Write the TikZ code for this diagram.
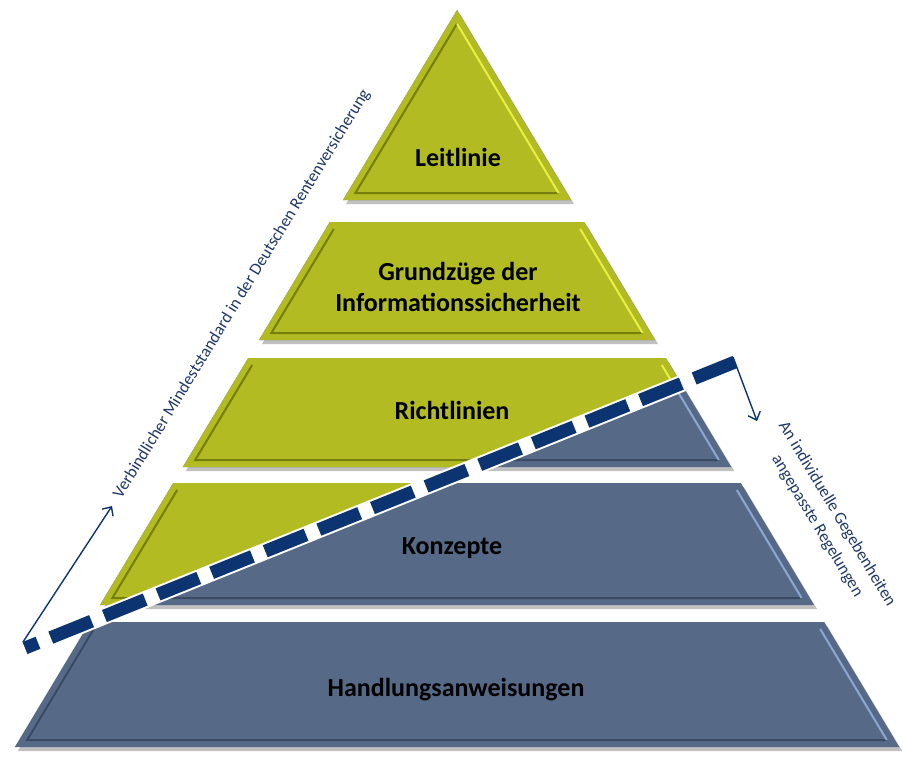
\documentclass[tikz,border=0pt]{standalone}
\usepackage{fontspec}
\setmainfont{Carlito}
\usetikzlibrary{shadows,arrows.meta}

\definecolor{layergreen}{RGB}{178,188,34}
\definecolor{greendark}{RGB}{118,126,12}
\definecolor{greenlight}{RGB}{232,240,70}
\definecolor{layerblue}{RGB}{86,106,136}
\definecolor{bluedark}{RGB}{58,74,100}
\definecolor{bluelight}{RGB}{140,168,210}
\definecolor{navy}{RGB}{12,52,112}
\definecolor{labelblue}{RGB}{30,56,104}

% one set of pyramid layers: fill, dark bevel, light bevel, extra fill options
\newcommand{\pyramidlayers}[4]{%
  \foreach \yt/\yb/\ti in {10/200/14,222/340/7,358/467/7,483/605/7,622/747/7}{
    \pgfmathsetmacro\xlt{457-0.6*(\yt-10)}
    \pgfmathsetmacro\xrt{457+0.6*(\yt-10)}
    \pgfmathsetmacro\xlb{457-0.6*(\yb-10)}
    \pgfmathsetmacro\xrb{457+0.6*(\yb-10)}
    \fill[fill=#1,#4] (\xlt,\yt) -- (\xrt,\yt) -- (\xrb,\yb) -- (\xlb,\yb) -- cycle;
    \pgfmathsetmacro\yti{\yt+\ti}
    \pgfmathsetmacro\ybi{\yb-7}
    \pgfmathsetmacro\xlti{457-0.6*(\yti-10)+8.2}
    \pgfmathsetmacro\xrti{457+0.6*(\yti-10)-8.2}
    \pgfmathsetmacro\xlbi{457-0.6*(\ybi-10)+8.2}
    \pgfmathsetmacro\xrbi{457+0.6*(\ybi-10)-8.2}
    \draw[#2,line width=2pt] (\xlti,\yti) -- (\xlbi,\ybi) -- (\xrbi,\ybi);
    \draw[#3,line width=2pt] (\xrti,\yti) -- (\xrbi,\ybi);
  }%
}

\begin{document}
\begin{tikzpicture}[x=1pt,y=-1pt,
	layerlabel/.style={font=\bfseries\fontsize{26}{31}\selectfont,text=black,align=center},
	sidelabel/.style={font=\fontsize{17}{23}\selectfont,text=labelblue,align=center},
	thinarrow/.style={draw=navy,line width=1.4pt,-{Straight Barb[length=7pt,width=13pt]}}]
	\useasboundingbox (0,0) rectangle (903,756);

	% blue pyramid
	\pyramidlayers{layerblue}{bluedark}{bluelight}{drop shadow={shadow xshift=3pt,shadow yshift=-4pt,opacity=.45,fill=black!55}}

	% green part above the dashed line
	\begin{scope}
		\clip (0,0) -- (903,0) -- (903,294) -- (0,658) -- cycle;
		\pyramidlayers{layergreen}{greendark}{greenlight}{}
	\end{scope}

	% dashed border line
	\coordinate (dashL) at (25,648);
	\coordinate (dashR) at (735,362);
	\coordinate (startL) at (23,642);
	\coordinate (tipL) at (112,506);
	\coordinate (startR) at (733,357);
	\coordinate (tipR) at (757,421);
	\draw[white,line width=17pt] (dashL) -- (dashR);
	\draw[navy,line width=13pt,dash pattern=on 44pt off 13.8pt,dash phase=30pt] (dashL) -- (dashR);
	\draw[thinarrow] (startL) -- (tipL);
	\draw[thinarrow] (startR) -- (tipR);

	% texts
	\node[layerlabel] (leit) at (458,157) {Leitlinie};
	\node[layerlabel] (grund) at (458,287) {Grundzüge der\\Informationssicherheit};
	\node[layerlabel] (richt) at (452,410) {Richtlinien};
	\node[layerlabel] (konz) at (452,548) {Konzepte};
	\node[layerlabel] (handl) at (456,690) {Handlungsanweisungen};
	\node[sidelabel,rotate=58.5] (leftlabel) at (242,294) {Verbindlicher Mindeststandard in der Deutschen Rentenversicherung};
	\node[sidelabel,rotate=-59] (rightlabel) at (827,520) {An individuelle Gegebenheiten\\angepasste Regelungen};
\end{tikzpicture}
\end{document}
